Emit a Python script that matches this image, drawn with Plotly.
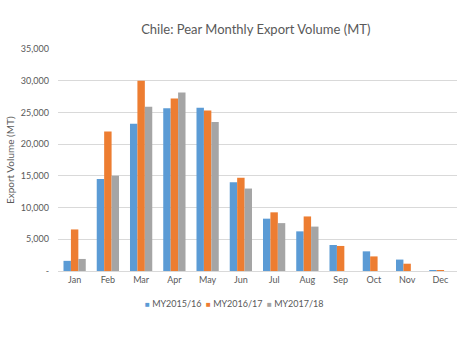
import plotly.graph_objects as go

months = ["Jan", "Feb", "Mar", "Apr", "May", "Jun", "Jul", "Aug", "Sep", "Oct", "Nov", "Dec"]
my2015 = [1600, 14500, 23200, 25650, 25750, 14000, 8250, 6250, 4100, 3100, 1800, 100]
my2016 = [6550, 22000, 30000, 27200, 25300, 14700, 9250, 8600, 3950, 2300, 1150, 150]
my2017 = [1900, 15000, 25900, 28150, 23500, 13000, 7550, 7000, None, None, None, None]
series_names = ["MY2015/16", "MY2016/17", "MY2017/18"]
colors = ["#5B9BD5", "#ED7D31", "#A5A5A5"]
tick_vals = [0, 5000, 10000, 15000, 20000, 25000, 30000, 35000]
tick_text = ["-", "5,000", "10,000", "15,000", "20,000", "25,000", "30,000", "35,000"]

fig = go.Figure()
for name, vals, c in zip(series_names, [my2015, my2016, my2017], colors):
    fig.add_trace(go.Bar(x=months, y=vals, name=name, marker_color=c, marker_line_width=0,
                         showlegend=False))

font_family = "Lato, Open Sans, sans-serif"
W, ML, MR = 460, 58, 3
PW = W - ML - MR
fig.update_layout(
    width=460, height=341,
    margin=dict(l=ML, r=MR, t=49, b=70),
    paper_bgcolor="white", plot_bgcolor="white",
    barmode="group", bargap=0.33, bargroupgap=0,
    font=dict(family=font_family, color="#595959", size=9),
    title=dict(text="Chile: Pear Monthly Export Volume (MT)", x=0.556, xanchor="center",
               y=1 - 29/341, yanchor="middle",
               font=dict(size=13, color="#595959", family=font_family)),
    showlegend=False,
    xaxis=dict(showgrid=False, showline=True, linecolor="#D9D9D9", linewidth=1,
               ticks="", tickfont=dict(size=9, color="#595959")),
    yaxis=dict(range=[0, 35000], tickvals=tick_vals, ticktext=tick_text,
               showgrid=True, gridcolor="#D9D9D9", gridwidth=1, zeroline=False,
               showline=False, ticks="", ticklabelstandoff=8,
               tickfont=dict(size=9, color="#595959")),
)
fig.add_annotation(text="Export Volume (MT)", xref="paper", yref="paper",
                   x=-0.12, y=0.5, xanchor="center", yanchor="middle",
                   textangle=-90, showarrow=False,
                   font=dict(size=10, color="#595959", family=font_family))
# legend built as annotations (compact Excel-style)
legend_px = [143, 204, 265]
for name, c, px in zip(series_names, colors, legend_px):
    fig.add_annotation(text=f"<span style='color:{c};font-size:8px'>■</span> {name}",
                       xref="paper", yref="paper",
                       x=(px - ML) / PW, y=-0.145, xanchor="left", yanchor="middle",
                       showarrow=False, font=dict(size=9, color="#595959", family=font_family))
fig.write_html("out.html")
